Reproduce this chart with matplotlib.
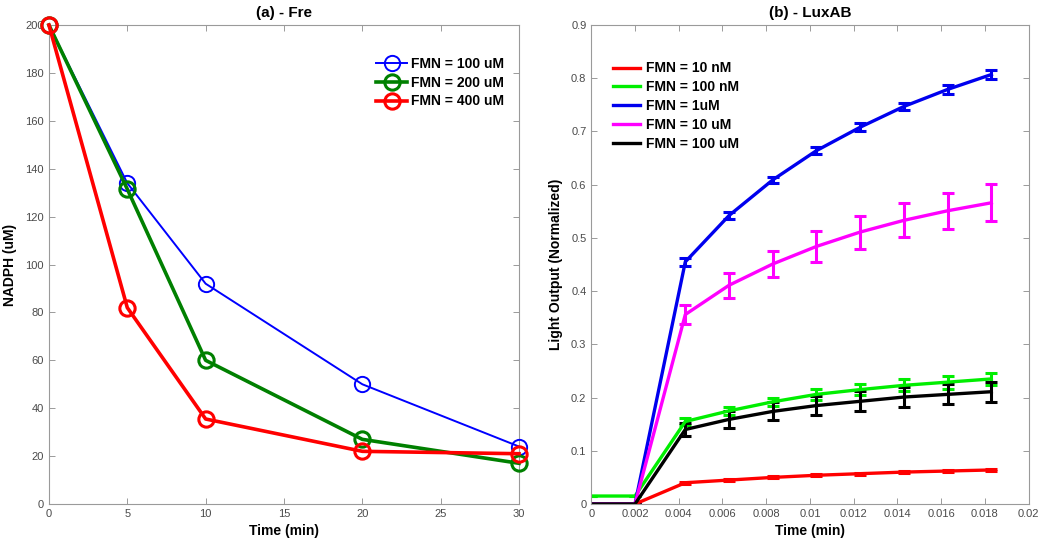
import matplotlib
matplotlib.use("Agg")
import matplotlib.pyplot as plt

plt.rcParams["font.family"] = ["Liberation Sans", "DejaVu Sans"]

# panel (a): NADPH consumption by Fre
fre_time = [0, 5, 10, 20, 30]
fre_labels = ["FMN = 100 uM", "FMN = 200 uM", "FMN = 400 uM"]
nadph_100 = [200, 134, 92, 50, 24]
nadph_200 = [200, 131.5, 60, 27, 17]
nadph_400 = [200, 82, 35.5, 22, 21]

# panel (b): LuxAB light output
lux_time = [0, 0.002, 0.0043, 0.0063, 0.0083, 0.0103, 0.0123, 0.0143, 0.0163, 0.0183]
lux_labels = ["FMN = 10 nM", "FMN = 100 nM", "FMN = 1uM", "FMN = 10 uM", "FMN = 100 uM"]
light_10nm = [0, 0, 0.040, 0.045, 0.050, 0.054, 0.057, 0.060, 0.062, 0.064]
err_10nm = [0, 0, 0.002, 0.002, 0.002, 0.002, 0.002, 0.002, 0.002, 0.002]
light_100nm = [0.015, 0.015, 0.155, 0.175, 0.192, 0.206, 0.215, 0.223, 0.229, 0.235]
err_100nm = [0, 0, 0.006, 0.007, 0.008, 0.010, 0.011, 0.011, 0.012, 0.012]
light_1um = [0, 0, 0.455, 0.542, 0.609, 0.664, 0.708, 0.747, 0.779, 0.807]
err_1um = [0, 0, 0.007, 0.007, 0.006, 0.007, 0.007, 0.007, 0.008, 0.008]
light_10um = [0, 0, 0.356, 0.411, 0.451, 0.484, 0.511, 0.533, 0.551, 0.566]
err_10um = [0, 0, 0.018, 0.023, 0.025, 0.029, 0.031, 0.032, 0.034, 0.035]
light_100um = [0, 0, 0.140, 0.159, 0.174, 0.185, 0.193, 0.201, 0.206, 0.211]
err_100um = [0, 0, 0.012, 0.016, 0.017, 0.018, 0.019, 0.019, 0.019, 0.019]

GREY = "#9a9a9a"
TICK = "#4a4a4a"


def matlab_style(ax):
    for spine in ax.spines.values():
        spine.set_color(GREY)
        spine.set_linewidth(0.8)
    ax.tick_params(direction="in", top=True, right=True, colors=GREY,
                   labelcolor=TICK, labelsize=8, length=4, width=0.7)


fig = plt.figure(figsize=(10.41, 5.44), dpi=100)
ax1 = fig.add_axes([0.047, 0.0735, 0.4516, 0.8805])
ax2 = fig.add_axes([0.568, 0.0735, 0.420, 0.8805])

# (a) - Fre
ax1.plot(fre_time, nadph_100, color="#0000ff", lw=1.4, marker="o", ms=11,
         mfc="none", mew=1.4, label=fre_labels[0], clip_on=False, zorder=3)
ax1.plot(fre_time, nadph_200, color="#008000", lw=2.6, marker="o", ms=11,
         mfc="none", mew=2.2, label=fre_labels[1], clip_on=False, zorder=3)
ax1.plot(fre_time, nadph_400, color="#ff0000", lw=2.6, marker="o", ms=11,
         mfc="none", mew=2.2, label=fre_labels[2], clip_on=False, zorder=3)
ax1.set_xlim(0, 30)
ax1.set_ylim(0, 200)
ax1.set_xticks(range(0, 31, 5))
ax1.set_yticks(range(0, 201, 20))
ax1.set_title("(a) - Fre", fontsize=11, fontweight="bold", pad=6)
ax1.set_xlabel("Time (min)", fontsize=10, fontweight="bold", labelpad=4)
ax1.set_ylabel("NADPH (uM)", fontsize=10, fontweight="bold", labelpad=6)
matlab_style(ax1)
leg1 = ax1.legend(loc="upper right", bbox_to_anchor=(0.995, 0.96), frameon=False,
                  fontsize=10, handlelength=2.2, handletextpad=0.3, labelspacing=0.35)
for t in leg1.get_texts():
    t.set_fontweight("bold")

# (b) - LuxAB
series = [
    (light_10nm, err_10nm, "#ff0000"),
    (light_100nm, err_100nm, "#00ee00"),
    (light_1um, err_1um, "#0000ee"),
    (light_10um, err_10um, "#ff00ff"),
    (light_100um, err_100um, "#000000"),
]
for (vals, errs, col), lab in zip(series, lux_labels):
    ax2.errorbar(lux_time, vals, yerr=errs, color=col, lw=2.4, elinewidth=2.2,
                 capsize=4, capthick=2.2, label=lab)
ax2.set_xlim(0, 0.02)
ax2.set_ylim(0, 0.9)
ax2.set_xticks([0, 0.002, 0.004, 0.006, 0.008, 0.01, 0.012, 0.014, 0.016, 0.018, 0.02])
ax2.set_xticklabels(["0", "0.002", "0.004", "0.006", "0.008", "0.01", "0.012",
                     "0.014", "0.016", "0.018", "0.02"])
ax2.set_yticks([i / 10 for i in range(10)])
ax2.set_yticklabels(["0"] + [f"{i / 10:.1f}" for i in range(1, 10)])
ax2.set_title("(b) - LuxAB", fontsize=11, fontweight="bold", pad=6)
ax2.set_xlabel("Time (min)", fontsize=10, fontweight="bold", labelpad=4)
ax2.set_ylabel("Light Output (Normalized)", fontsize=10, fontweight="bold", labelpad=6)
matlab_style(ax2)
handles, labels = ax2.get_legend_handles_labels()
handles = [h[0] for h in handles]
leg2 = ax2.legend(handles, labels, loc="upper left", bbox_to_anchor=(0.02, 0.95),
                  frameon=False, fontsize=10, handlelength=2.0,
                  handletextpad=0.4, labelspacing=0.35)
for t in leg2.get_texts():
    t.set_fontweight("bold")

fig.savefig("out.png", dpi=100)
